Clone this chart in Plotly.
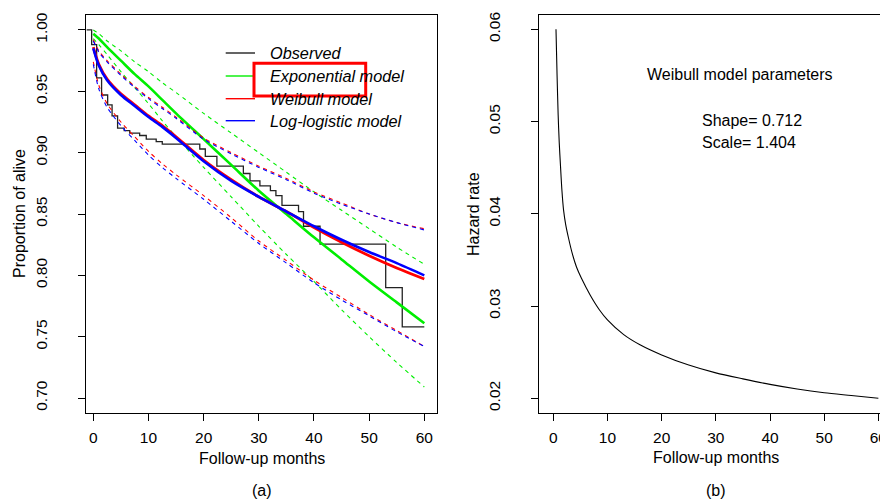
import plotly.graph_objects as go

W, H = 880, 499

# observed Kaplan-Meier steps
obs_t = [-1.2, -0.3, 0.6, 1.5, 2.6, 3.4, 4.4, 5.6, 6.6, 8.4, 9.6, 11.4, 12.5, 19.3, 20.3,
         22.4, 27.2, 28.4, 30.2, 32.1, 33.1, 34.2, 37.2, 38.1, 41.1, 53.0, 56.0, 60.0]
obs_s = [1.000, 0.988, 0.961, 0.947, 0.939, 0.930, 0.920, 0.918, 0.916, 0.914, 0.911, 0.909, 0.907, 0.903, 0.897,
         0.889, 0.883, 0.877, 0.873, 0.869, 0.865, 0.857, 0.852, 0.840, 0.8255, 0.790, 0.758, 0.758]

# fitted models
model_t = [0, 1, 2.5, 5, 7.5, 10, 12.5, 15, 20, 25, 30, 35, 40, 45, 50, 55, 60]
exp_s = [0.997, 0.993, 0.986, 0.975, 0.964, 0.954, 0.943, 0.932, 0.911, 0.890, 0.869, 0.850, 0.831, 0.813, 0.795, 0.778, 0.761]
exp_hi = [1.000, 0.997, 0.991, 0.983, 0.974, 0.966, 0.957, 0.949, 0.932, 0.916, 0.900, 0.884, 0.868, 0.853, 0.838, 0.823, 0.809]
exp_lo = [0.993, 0.988, 0.980, 0.966, 0.953, 0.940, 0.926, 0.913, 0.888, 0.864, 0.840, 0.817, 0.795, 0.772, 0.750, 0.729, 0.709]
wei_s = [0.986, 0.972, 0.960, 0.948, 0.939, 0.930, 0.922, 0.913, 0.894, 0.878, 0.864, 0.852, 0.839, 0.827, 0.816, 0.806, 0.797]
wei_hi = [0.992, 0.983, 0.975, 0.964, 0.954, 0.945, 0.937, 0.929, 0.912, 0.900, 0.889, 0.879, 0.868, 0.859, 0.850, 0.843, 0.838]
wei_lo = [0.974, 0.955, 0.940, 0.925, 0.913, 0.901, 0.891, 0.882, 0.865, 0.847, 0.828, 0.812, 0.796, 0.782, 0.768, 0.755, 0.742]
ll_s = [0.985, 0.971, 0.959, 0.947, 0.938, 0.929, 0.921, 0.912, 0.893, 0.877, 0.864, 0.852, 0.840, 0.829, 0.819, 0.810, 0.800]
ll_hi = [0.991, 0.982, 0.974, 0.963, 0.953, 0.944, 0.936, 0.928, 0.911, 0.899, 0.888, 0.878, 0.867, 0.858, 0.850, 0.843, 0.837]
ll_lo = [0.972, 0.952, 0.937, 0.922, 0.910, 0.898, 0.888, 0.879, 0.862, 0.844, 0.826, 0.810, 0.794, 0.780, 0.767, 0.754, 0.742]

# Weibull hazard
haz_t = [0.5, 0.7, 0.9, 1.1, 1.35, 1.6, 1.9, 2.3, 2.8, 3.5, 4.3, 5.2, 6.8, 8.5, 10, 13, 16, 20, 25, 30, 35, 40, 45, 50, 55, 60]
haz_h = [0.0600, 0.0550, 0.0507, 0.0477, 0.0450, 0.0425, 0.0404, 0.0388, 0.0374, 0.0357, 0.0342, 0.0330, 0.0312, 0.0296,
         0.0285, 0.0269, 0.0258, 0.0247, 0.0236, 0.02275, 0.0221, 0.0215, 0.0210, 0.0206, 0.0203, 0.0200]

legend_names = ["Observed", "Exponential model", "Weibull model", "Log-logistic model"]
legend_colors = ["#222222", "#00ee00", "#ff0000", "#0000ff"]

FONT = "Liberation Sans, Arial, sans-serif"


def px(x):
    return x / W


def py(y):
    return 1 - y / H


fig = go.Figure()


def add(x, y, color, width, dash=None, shape="spline", ax="x", ay="y"):
    fig.add_trace(go.Scatter(x=x, y=y, mode="lines", xaxis=ax, yaxis=ay, showlegend=False,
                             line=dict(color=color, width=width, dash=dash, shape=shape,
                                       smoothing=0.8 if shape == "spline" else None),
                             hoverinfo="skip"))


dash = "4px,4px"
add(obs_t, obs_s, "#222222", 1.3, shape="hv")
add(model_t, exp_s, "#00ee00", 2.6)
add(model_t, exp_hi, "#00ee00", 1.1, dash)
add(model_t, exp_lo, "#00ee00", 1.1, dash)
add(model_t, wei_s, "#ff0000", 2.8)
add(model_t, wei_hi, "#ff0000", 1.1, dash)
add(model_t, wei_lo, "#ff0000", 1.1, dash)
add(model_t, ll_s, "#0000ff", 2.6)
add(model_t, ll_hi, "#0000ff", 1.1, dash)
add(model_t, ll_lo, "#0000ff", 1.1, dash)

add(haz_t, haz_h, "#000000", 1.1, ax="x2", ay="y2")

axis_common = dict(showgrid=False, zeroline=False, showline=True, linecolor="black", linewidth=1,
                   ticks="outside", ticklen=7, tickcolor="black", tickwidth=1, automargin=False,
                   tickfont=dict(family=FONT, size=15.5, color="black"), ticklabeloverflow="allow")

fig.update_layout(
    width=W, height=H, margin=dict(l=0, r=0, t=0, b=0),
    paper_bgcolor="white", plot_bgcolor="white",
    xaxis=dict(domain=[px(85.7), px(437)], range=[-1.38, 62.3], tickvals=[0, 10, 20, 30, 40, 50, 60],
               mirror=True, anchor="y", ticklabelstandoff=3, **axis_common),
    yaxis=dict(domain=[py(413), py(15)], range=[0.6878, 1.0122], tickvals=[0.70, 0.75, 0.80, 0.85, 0.90, 0.95, 1.00],
               tickformat=".2f", tickangle=-90, mirror=True, anchor="x", ticklabelstandoff=25, **axis_common),
    xaxis2=dict(domain=[px(539.3), 1.0], range=[-2.58, 60.3], tickvals=[0, 10, 20, 30, 40, 50, 60],
                mirror=True, anchor="y2", ticklabelstandoff=3, **axis_common),
    yaxis2=dict(domain=[py(413), py(15)], range=[0.0184, 0.06155], tickvals=[0.02, 0.03, 0.04, 0.05, 0.06],
                tickformat=".2f", tickangle=-90, anchor="x2", ticklabelstandoff=25, **axis_common),
)

ann = []


def label(x, y, text, angle=0, xanchor="center", size=16, italic=False):
    ann.append(dict(x=px(x), y=py(y), xref="paper", yref="paper", text=text, showarrow=False,
                    textangle=angle, xanchor=xanchor, yanchor="middle",
                    font=dict(family=FONT, size=size, color="black", style="italic" if italic else "normal")))


label(19, 214, "Proportion of alive", angle=-90)
label(262, 458, "Follow-up months")
label(262, 490, "(a)")
label(473, 214, "Hazard rate", angle=-90)
label(716, 457, "Follow-up months")
label(716, 490, "(b)")
label(740, 74, "Weibull model parameters")
label(700, 120, "Shape= 0.712", xanchor="left")
label(700, 143, "Scale= 1.404", xanchor="left")

# legend
shapes = []
leg_y = [53, 76, 98.7, 120.7]
for name, col, yy in zip(legend_names, legend_colors, leg_y):
    shapes.append(dict(type="line", xref="paper", yref="paper", x0=px(225.7), x1=px(255),
                       y0=py(yy), y1=py(yy), line=dict(color=col, width=1.4)))
    label(268, yy, name, xanchor="left", size=16.3, italic=True)

# red highlight box
shapes.append(dict(type="rect", xref="paper", yref="paper", x0=px(254), x1=px(365.7),
                   y0=py(96), y1=py(63.3), line=dict(color="#ff0000", width=3)))

fig.update_layout(annotations=ann, shapes=shapes)

fig.write_html("out.html", config={"displayModeBar": False},
               post_script="document.body.style.margin='0';document.body.style.overflow='hidden';")
